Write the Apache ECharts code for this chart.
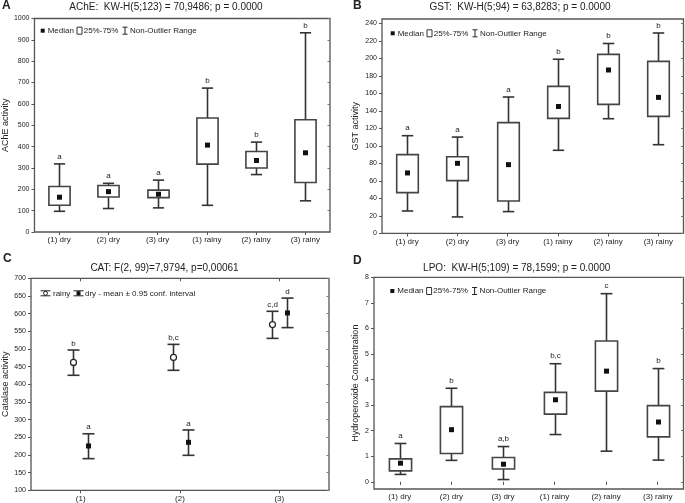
<!DOCTYPE html>
<html><head><meta charset="utf-8">
<script src="https://cdn.jsdelivr.net/npm/echarts@6/dist/echarts.min.js"></script>
<style>html,body{margin:0;padding:0;background:#fff}#c{width:685px;height:503px}</style>
</head><body><div id="c"></div>
<script>
// ---------- DATA ----------
const groups6 = ['(1) dry','(2) dry','(3) dry','(1) rainy','(2) rainy','(3) rainy'];
const groups3 = ['(1)','(2)','(3)'];

// boxes: [non-outlier min, 25%, median, 75%, non-outlier max]
const acheBoxes = [
  [97,125,163,213,319],
  [110,164,189,218,228],
  [113,161,177,196,243],
  [125,318,407,534,674],
  [269,300,335,377,421],
  [146,232,371,526,933]
];
const acheLetters = ['a','a','a','b','b','b'];
const acheTicks = [0,100,200,300,400,500,600,700,800,900,1000];

const gstBoxes = [
  [25.5,46.5,69,90,111.6],
  [18.7,60.2,80,87.6,110],
  [24.8,37,78.5,126.5,155.8],
  [94.9,131.4,145,168,199],
  [131,147.4,186.7,204.6,217],
  [101.3,133.7,155.4,196.6,229]
];
const gstLetters = ['a','a','a','b','b','b'];
const gstTicks = [0,20,40,60,80,100,120,140,160,180,200,220,240];

const lpoBoxes = [
  [0.29,0.43,0.73,0.90,1.50],
  [0.84,1.11,2.04,2.94,3.66],
  [0.09,0.50,0.69,0.95,1.38],
  [1.85,2.65,3.21,3.50,4.62],
  [1.20,3.55,4.33,5.51,7.36],
  [0.85,1.76,2.34,2.98,4.43]
];
const lpoLetters = ['a','b','a,b','b,c','c','b'];
const lpoTicks = [0,1,2,3,4,5,6,7,8];

// CAT: [lower 95% CI, mean, upper 95% CI]
const catRainy = [[425.5,462,497],[439.6,476,513],[530,569,606.6]];
const catDry   = [[189.6,225.5,260],[199,235.8,270.8],[560.4,601.9,644]];
const catRainyLetters = ['b','b,c','c,d'];
const catDryLetters = ['a','a','d'];
const catTicks = [100,150,200,250,300,350,400,450,500,550,600,650,700];

// ---------- STYLE ----------
const FONT = "'Liberation Sans', Arial, sans-serif";
const INK = '#222';
const LINE = '#333';

function boxRender(letters){
  return function(params, api){
    const i = api.value(0);
    const pMin = api.coord([i, api.value(1)]);
    const pQ1 = api.coord([i, api.value(2)]);
    const pMed = api.coord([i, api.value(3)]);
    const pQ3 = api.coord([i, api.value(4)]);
    const pMax = api.coord([i, api.value(5)]);
    const band = api.size([1,0])[0];
    const bw = band*0.43, cw = bw*0.53;
    const x = Math.round(pMed[0]) + 0.5;
    const ls = {stroke:LINE, lineWidth:1.6};
    return {type:'group', children:[
      {type:'line', shape:{x1:x,y1:pMax[1],x2:x,y2:pQ3[1]}, style:ls},
      {type:'line', shape:{x1:x,y1:pQ1[1],x2:x,y2:pMin[1]}, style:ls},
      {type:'line', shape:{x1:x-cw/2,y1:pMax[1],x2:x+cw/2,y2:pMax[1]}, style:ls},
      {type:'line', shape:{x1:x-cw/2,y1:pMin[1],x2:x+cw/2,y2:pMin[1]}, style:ls},
      {type:'rect', shape:{x:x-bw/2,y:pQ3[1],width:bw,height:pQ1[1]-pQ3[1]}, style:{fill:'#fff',stroke:'#444',lineWidth:1.6}},
      {type:'rect', shape:{x:x-2.5,y:pMed[1]-2.5,width:5,height:5}, style:{fill:'#111'}},
      {type:'text', style:{text:letters[params.dataIndex], x:x, y:pMax[1]-7.5, align:'center', verticalAlign:'middle', fontSize:8, fontFamily:FONT, fill:INK}}
    ]};
  };
}

function ciRender(letters, offset, marker){
  return function(params, api){
    const i = api.value(0);
    const lo = api.coord([i, api.value(1)]);
    const m = api.coord([i, api.value(2)]);
    const hi = api.coord([i, api.value(3)]);
    const x = Math.round(m[0] + offset) + 0.5;
    const cw = 12;
    const ls = {stroke:LINE, lineWidth:1.6};
    const mk = marker === 'circle'
      ? {type:'circle', shape:{cx:x, cy:m[1], r:3}, style:{fill:'#fff', stroke:'#222', lineWidth:1.2}}
      : {type:'rect', shape:{x:x-2.5, y:m[1]-2.5, width:5, height:5}, style:{fill:'#111'}};
    return {type:'group', children:[
      {type:'line', shape:{x1:x,y1:hi[1],x2:x,y2:lo[1]}, style:ls},
      {type:'line', shape:{x1:x-cw/2,y1:hi[1],x2:x+cw/2,y2:hi[1]}, style:ls},
      {type:'line', shape:{x1:x-cw/2,y1:lo[1],x2:x+cw/2,y2:lo[1]}, style:ls},
      mk,
      {type:'text', style:{text:letters[params.dataIndex], x:x, y:hi[1]-6.5, align:'center', verticalAlign:'middle', fontSize:8, fontFamily:FONT, fill:INK}}
    ]};
  };
}

const grids = [
  {left:33, right:355, top:18.5, bottom:271},
  {left:382, right:1.5, top:19, bottom:269.7},
  {left:31, right:356, top:278.3, bottom:12.7},
  {left:374, right:1.5, top:277.3, bottom:14}
].map(g => Object.assign(g, {show:true, borderColor:'#555', borderWidth:1.3, backgroundColor:'#fff', containLabel:false}));

const yDefs = [
  {min:0, max:1000, ticks:acheTicks, name:'AChE activity', gap:22},
  {min:0, max:245, ticks:gstTicks, name:'GST activity', gap:22},
  {min:100, max:700, ticks:catTicks, name:'Catalase activity', gap:21},
  {min:-0.28, max:8, ticks:lpoTicks, name:'Hydroperoxide Concentration', gap:14}
];
const xCats = [groups6, groups6, groups3, groups6];

const xAxis = [], yAxis = [];
for (let g=0; g<4; g++){
  xAxis.push({type:'category', gridIndex:g, data:xCats[g], boundaryGap:true, position:'bottom',
    axisLine:{show:false}, axisTick:{show:true, alignWithLabel:true, length:3, lineStyle:{color:'#555'}},
    axisLabel:{fontSize:8, fontFamily:FONT, color:INK, margin:4, interval:0}, splitLine:{show:false}});
}
for (let g=0; g<4; g++){
  xAxis.push({type:'category', gridIndex:g, data:xCats[g], boundaryGap:true, position:'top',
    axisLine:{show:false}, axisTick:{show:true, inside:true, alignWithLabel:true, length:3, lineStyle:{color:'#555'}},
    axisLabel:{show:false}, splitLine:{show:false}});
}
for (let g=0; g<4; g++){
  const d = yDefs[g];
  yAxis.push({type:'value', gridIndex:g, min:d.min, max:d.max, position:'left',
    name:d.name, nameLocation:'middle', nameGap:d.gap, nameTextStyle:{fontSize:9, fontFamily:FONT, color:INK},
    axisLine:{show:false}, splitLine:{show:false},
    axisTick:{show:true, length:3, customValues:d.ticks, lineStyle:{color:'#555'}},
    axisLabel:{fontSize:7, fontFamily:FONT, color:INK, margin:5, customValues:d.ticks, formatter:(v)=>String(v)}});
}
for (let g=0; g<4; g++){
  const d = yDefs[g];
  yAxis.push({type:'value', gridIndex:g, min:d.min, max:d.max, position:'right',
    axisLine:{show:false}, splitLine:{show:false},
    axisTick:{show:true, inside:true, length:2.5, customValues:d.ticks, lineStyle:{color:'#777'}},
    axisLabel:{show:false, customValues:d.ticks}});
}

function boxSeries(g, boxes, letters){
  return {type:'custom', xAxisIndex:g, yAxisIndex:g, renderItem:boxRender(letters),
    encode:{x:0, y:[1,2,3,4,5]}, data:boxes.map((b,i)=>[i].concat(b)), clip:false, silent:true};
}
function ciSeries(g, rows, letters, offset, marker){
  return {type:'custom', xAxisIndex:g, yAxisIndex:g, renderItem:ciRender(letters, offset, marker),
    encode:{x:0, y:[1,2,3]}, data:rows.map((r,i)=>[i].concat(r)), clip:false, silent:true};
}

function txt(x, y, s, size, opts){
  return Object.assign({type:'text', x:x, y:y, style:Object.assign({text:s, fontSize:size, fontFamily:FONT, fill:INK, verticalAlign:'middle'}, opts||{})});
}
function boxLegend(x0, y0){
  return [
    {type:'rect', shape:{x:x0-2, y:y0-2, width:4, height:4}, style:{fill:'#111'}},
    txt(x0+5, y0, 'Median', 8),
    {type:'rect', shape:{x:x0+34.3, y:y0-3.5, width:5, height:7}, style:{fill:'#fff', stroke:'#333', lineWidth:1}},
    txt(x0+41, y0, '25%-75%', 8),
    {type:'line', shape:{x1:x0+82.3, y1:y0-3.5, x2:x0+82.3, y2:y0+3.5}, style:{stroke:'#222', lineWidth:1}},
    {type:'line', shape:{x1:x0+79.8, y1:y0-3.5, x2:x0+84.8, y2:y0-3.5}, style:{stroke:'#222', lineWidth:1}},
    {type:'line', shape:{x1:x0+79.8, y1:y0+3.5, x2:x0+84.8, y2:y0+3.5}, style:{stroke:'#222', lineWidth:1}},
    txt(x0+87.3, y0, 'Non-Outlier Range', 8)
  ];
}
function ciGlyph(cx, cy, marker){
  const els = [
    {type:'line', shape:{x1:cx-5, y1:cy-2.5, x2:cx+5, y2:cy-2.5}, style:{stroke:'#222', lineWidth:1}},
    {type:'line', shape:{x1:cx-5, y1:cy+2.5, x2:cx+5, y2:cy+2.5}, style:{stroke:'#222', lineWidth:1}},
    {type:'line', shape:{x1:cx, y1:cy-2.5, x2:cx, y2:cy+2.5}, style:{stroke:'#222', lineWidth:1}}
  ];
  els.push(marker === 'circle'
    ? {type:'circle', shape:{cx:cx, cy:cy, r:2}, style:{fill:'#fff', stroke:'#222', lineWidth:1}}
    : {type:'rect', shape:{x:cx-2, y:cy-2, width:4, height:4}, style:{fill:'#111'}});
  return els;
}

const graphics = [].concat(
  [txt(2, 6, 'A', 12, {fontWeight:'bold'}),
   txt(353, 6, 'B', 12, {fontWeight:'bold'}),
   txt(3, 259, 'C', 12, {fontWeight:'bold'}),
   txt(353, 261, 'D', 12, {fontWeight:'bold'}),
   txt(166, 7.5, 'AChE:  KW-H(5;123) = 70,9486; p = 0.0000', 10, {align:'center'}),
   txt(520, 7.5, 'GST:  KW-H(5;94) = 63,8283; p = 0.0000', 10, {align:'center'}),
   txt(164.5, 268, 'CAT: F(2, 99)=7,9794, p=0,00061', 10, {align:'center'}),
   txt(516.7, 268, 'LPO:  KW-H(5;109) = 78,1599; p = 0.0000', 10, {align:'center'})],
  boxLegend(42.7, 30.7),
  boxLegend(392.7, 33.3),
  boxLegend(392.3, 291),
  ciGlyph(45.5, 293.3, 'circle'),
  [txt(53, 293.3, 'rainy', 8)],
  ciGlyph(78.5, 293.3, 'square'),
  [txt(85, 293.3, 'dry - mean \u00b1 0.95 conf. interval', 8)]
);

const chart = echarts.init(document.getElementById('c'), null, {renderer:'canvas'});
chart.setOption({
  backgroundColor:'#fff',
  animation:false,
  grid:grids,
  xAxis:xAxis,
  yAxis:yAxis,
  series:[
    boxSeries(0, acheBoxes, acheLetters),
    boxSeries(1, gstBoxes, gstLetters),
    ciSeries(2, catRainy, catRainyLetters, -7.5, 'circle'),
    ciSeries(2, catDry, catDryLetters, 7.5, 'square'),
    boxSeries(3, lpoBoxes, lpoLetters)
  ],
  graphic:{elements:graphics}
});
</script></body></html>
